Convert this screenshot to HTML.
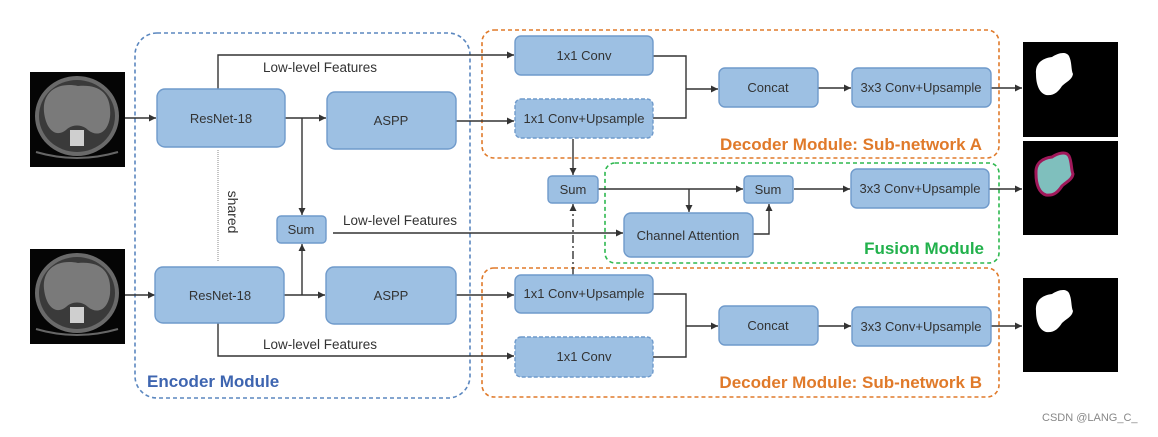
<!DOCTYPE html>
<html><head><meta charset="utf-8"><style>
body{margin:0;background:#fff;width:1158px;height:432px;overflow:hidden}
text{font-family:"Liberation Sans",sans-serif}
</style></head><body>
<svg width="1158" height="432" viewBox="0 0 1158 432" xmlns="http://www.w3.org/2000/svg">
<defs>
<marker id="a" markerWidth="8" markerHeight="8" refX="7" refY="4" orient="auto" markerUnits="userSpaceOnUse"><path d="M0,0.5 L7,4 L0,7.5 z" fill="#333"/></marker>
<g id="ct">
<rect x="0" y="0" width="95" height="95" fill="#050505"/>
<ellipse cx="47" cy="44" rx="42" ry="40" fill="#6a6a6a"/>
<ellipse cx="47" cy="44" rx="38" ry="36" fill="#3a3a3a"/>
<path d="M14,40 C12,18 30,10 48,14 C70,12 82,22 80,45 C78,60 68,66 58,58 C52,52 42,52 36,58 C26,66 16,58 14,40z" fill="#7a7a7a"/>
<rect x="40" y="58" width="14" height="16" fill="#cfcfcf"/>
<path d="M6,80 Q47,92 88,80" stroke="#666" fill="none" stroke-width="2"/>
</g>
<path id="blob" d="M0,22 C-1,10 8,6 16,5 C22,1 30,-1 33,4 C36,10 35,18 37,22 C36,28 30,30 26,34 C22,40 18,44 10,43 C3,41 0,32 0,22z"/>
</defs>

<use href="#ct" x="30" y="72"/>
<use href="#ct" x="30" y="249"/>

<rect x="135" y="33" width="335" height="365" rx="22" fill="none" stroke="#5b87bf" stroke-width="1.6" stroke-dasharray="4,3"/>
<text x="147" y="387" font-size="17" font-weight="bold" fill="#3e65b0">Encoder Module</text>

<rect x="482" y="30" width="517" height="128" rx="12" fill="none" stroke="#e07a2a" stroke-width="1.6" stroke-dasharray="4,3"/>
<text x="982" y="150" text-anchor="end" font-size="17" font-weight="bold" fill="#e07a2a">Decoder Module: Sub-network A</text>
<rect x="605" y="163" width="394" height="100" rx="10" fill="none" stroke="#2eb84f" stroke-width="1.6" stroke-dasharray="4,3"/>
<text x="984" y="254" text-anchor="end" font-size="17" font-weight="bold" fill="#22b14c">Fusion Module</text>
<rect x="482" y="268" width="517" height="129" rx="12" fill="none" stroke="#e07a2a" stroke-width="1.6" stroke-dasharray="4,3"/>
<text x="982" y="388" text-anchor="end" font-size="17" font-weight="bold" fill="#e07a2a">Decoder Module: Sub-network B</text>

<g stroke="#333" stroke-width="1.4" fill="none">
<line x1="125" y1="118" x2="156" y2="118" marker-end="url(#a)"/>
<line x1="125" y1="295" x2="155" y2="295" marker-end="url(#a)"/>
<polyline points="218,89 218,55 514,55" marker-end="url(#a)"/>
<line x1="285" y1="118" x2="326" y2="118" marker-end="url(#a)"/>
<line x1="302" y1="118" x2="302" y2="215" marker-end="url(#a)"/>
<line x1="284" y1="295" x2="325" y2="295" marker-end="url(#a)"/>
<line x1="302" y1="295" x2="302" y2="244" marker-end="url(#a)"/>
<polyline points="218,323 218,356 514,356" marker-end="url(#a)"/>
<line x1="456" y1="121" x2="514" y2="121" marker-end="url(#a)"/>
<line x1="456" y1="295" x2="514" y2="295" marker-end="url(#a)"/>
<line x1="333" y1="233" x2="623" y2="233" marker-end="url(#a)"/>
<polyline points="653,56 686,56 686,118 653,118"/>
<line x1="686" y1="89" x2="718" y2="89" marker-end="url(#a)"/>
<line x1="818" y1="88" x2="851" y2="88" marker-end="url(#a)"/>
<line x1="991" y1="88" x2="1022" y2="88" marker-end="url(#a)"/>
<line x1="573" y1="139" x2="573" y2="175" marker-end="url(#a)"/>
<line x1="573" y1="275" x2="573" y2="204" marker-end="url(#a)" stroke-dasharray="8,3,2,3"/>
<line x1="598" y1="189" x2="743" y2="189" marker-end="url(#a)"/>
<line x1="689" y1="189" x2="689" y2="212" marker-end="url(#a)"/>
<polyline points="753,234 769,234 769,204" marker-end="url(#a)"/>
<line x1="794" y1="189" x2="850" y2="189" marker-end="url(#a)"/>
<line x1="989" y1="189" x2="1022" y2="189" marker-end="url(#a)"/>
<polyline points="653,294 686,294 686,357 653,357"/>
<line x1="686" y1="326" x2="718" y2="326" marker-end="url(#a)"/>
<line x1="818" y1="326" x2="851" y2="326" marker-end="url(#a)"/>
<line x1="991" y1="326" x2="1022" y2="326" marker-end="url(#a)"/>
</g>
<line x1="218" y1="150" x2="218" y2="262" stroke="#888" stroke-width="1" stroke-dasharray="1,1"/>
<text transform="translate(228,212) rotate(90)" text-anchor="middle" font-size="14" fill="#333">shared</text>

<g font-size="13.5" fill="#333">
<text x="263" y="72">Low-level Features</text>
<text x="343" y="225">Low-level Features</text>
<text x="263" y="349">Low-level Features</text>
</g>

<g fill="#9dc0e3" stroke="#6f9acb" stroke-width="1.4">
<rect x="157" y="89" width="128" height="58" rx="8"/>
<rect x="327" y="92" width="129" height="57" rx="8"/>
<rect x="155" y="267" width="129" height="56" rx="8"/>
<rect x="326" y="267" width="130" height="57" rx="8"/>
<rect x="277" y="216" width="49" height="27" rx="4"/>
<rect x="515" y="36" width="138" height="39" rx="6"/>
<rect x="515" y="99" width="138" height="39" rx="6" stroke-dasharray="4,2"/>
<rect x="719" y="68" width="99" height="39" rx="6"/>
<rect x="852" y="68" width="139" height="39" rx="6"/>
<rect x="548" y="176" width="50" height="27" rx="4"/>
<rect x="744" y="176" width="49" height="27" rx="4"/>
<rect x="624" y="213" width="129" height="44" rx="7"/>
<rect x="851" y="169" width="138" height="39" rx="6"/>
<rect x="515" y="275" width="138" height="38" rx="6"/>
<rect x="515" y="337" width="138" height="40" rx="6" stroke-dasharray="4,2"/>
<rect x="719" y="306" width="99" height="39" rx="6"/>
<rect x="852" y="307" width="139" height="39" rx="6"/>
</g>
<g font-size="13" fill="#333" text-anchor="middle">
<text x="221" y="123">ResNet-18</text>
<text x="391" y="125">ASPP</text>
<text x="220" y="300">ResNet-18</text>
<text x="391" y="300">ASPP</text>
<text x="301" y="234">Sum</text>
<text x="584" y="60">1x1 Conv</text>
<text x="584" y="123">1x1 Conv+Upsample</text>
<text x="768" y="92">Concat</text>
<text x="921" y="92">3x3 Conv+Upsample</text>
<text x="573" y="194">Sum</text>
<text x="768" y="194">Sum</text>
<text x="688" y="240">Channel Attention</text>
<text x="920" y="193">3x3 Conv+Upsample</text>
<text x="584" y="298">1x1 Conv+Upsample</text>
<text x="584" y="361">1x1 Conv</text>
<text x="768" y="330">Concat</text>
<text x="921" y="331">3x3 Conv+Upsample</text>
</g>

<rect x="1023" y="42" width="95" height="95" fill="#000"/>
<use href="#blob" x="1036" y="52" fill="#fff"/>
<rect x="1023" y="141" width="95" height="94" fill="#000"/>
<use href="#blob" x="1036" y="152" fill="#7fbfbd" stroke="#a0185a" stroke-width="3"/>
<rect x="1023" y="278" width="95" height="94" fill="#000"/>
<use href="#blob" x="1036" y="289" fill="#fff"/>

<text x="1042" y="421" font-size="11" fill="#888">CSDN @LANG_C_</text>
</svg>
</body></html>
